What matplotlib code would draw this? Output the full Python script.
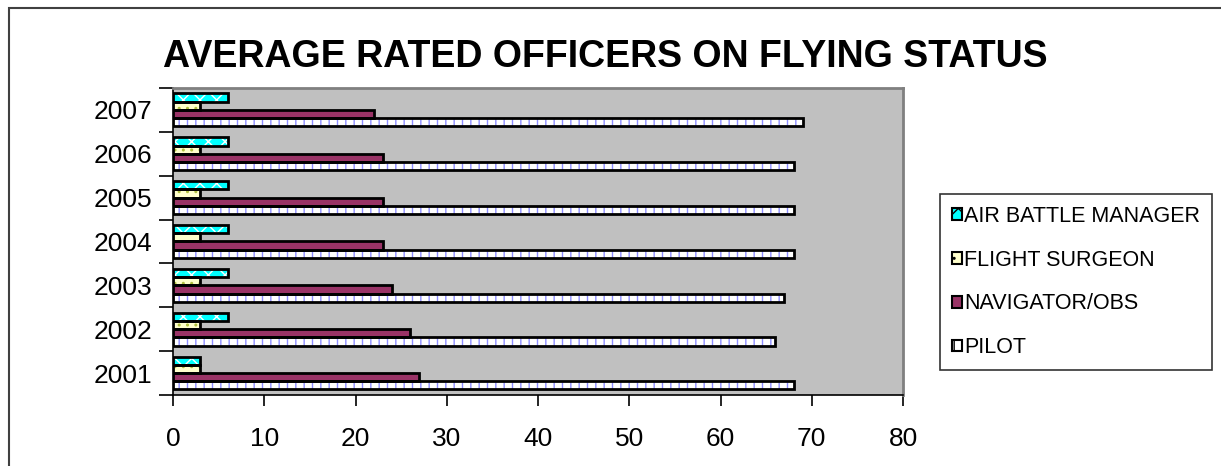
import numpy as np
import matplotlib.pyplot as plt
from matplotlib.patches import Rectangle, Patch

plt.rcParams['font.family'] = ['Liberation Sans', 'DejaVu Sans']

years = ['2001', '2002', '2003', '2004', '2005', '2006', '2007']
pilot = [68, 66, 67, 68, 68, 68, 69]
navigator = [27, 26, 24, 23, 23, 23, 22]
flight_surgeon = [3, 3, 3, 3, 3, 3, 3]
air_battle_mgr = [3, 6, 6, 6, 6, 6, 6]

series = [
    ('PILOT', pilot, 'white', '#8c8cff', '||'),
    ('NAVIGATOR/OBS', navigator, '#993366', '#993366', None),
    ('FLIGHT SURGEON', flight_surgeon, '#ffffcc', '#b0c040', '..'),
    ('AIR BATTLE MANAGER', air_battle_mgr, '#00ffff', 'white', 'xx'),
]

fig = plt.figure(figsize=(12.21, 4.66), dpi=100)
ax = fig.add_axes([0.1417, 0.1524, 0.5979, 0.6588])
ax.set_facecolor('#c0c0c0')

# outer chart border (cut off at right and bottom)
fig.patches.append(Rectangle((9 / 1221, -0.1), 1.2, 1 - 8 / 466 + 0.1,
                             transform=fig.transFigure, fill=False,
                             edgecolor='#404040', linewidth=1.5))

y = np.arange(len(years))
h = 0.1875
handles = []
for i, (name, vals, fc, hc, hatch) in enumerate(series):
    pos = y - 1.5 * h + i * h
    ax.barh(pos, vals, height=h, color=fc, edgecolor=hc, hatch=hatch,
            linewidth=0, zorder=2)
    ax.barh(pos, vals, height=h, facecolor='none', edgecolor='black',
            linewidth=2, zorder=3)
    handles.append(Patch(facecolor=fc, edgecolor='black', linewidth=1.5,
                         hatch=hatch, label=name))

ax.set_xlim(0, 80)
ax.set_ylim(-0.5, len(years) - 0.5)
ax.set_xticks(range(0, 81, 10))
ax.set_yticks(y)
ax.set_yticklabels(years)
ax.set_yticks(np.arange(-0.5, len(years)), minor=True)
ax.tick_params(axis='y', which='major', length=0, labelsize=19, pad=15)
ax.tick_params(axis='y', which='minor', length=10, width=1.2)
ax.tick_params(axis='x', length=8, width=1.2, labelsize=19, pad=15)

for s in ['left', 'bottom']:
    ax.spines[s].set_color('black')
    ax.spines[s].set_linewidth(1.2)
for s in ['top', 'right']:
    ax.spines[s].set_color('#808080')
    ax.spines[s].set_linewidth(2)

fig.text(0.4955, 0.878, 'AVERAGE RATED OFFICERS ON FLYING STATUS',
         ha='center', va='center', fontsize=27, fontweight='bold')

leg = fig.legend(handles=handles[::-1], loc='center left',
                 bbox_to_anchor=(940 / 1221, 1 - 282 / 466),
                 fontsize=15.5, frameon=True, fancybox=False,
                 edgecolor='black', handlelength=0.47, handleheight=0.47,
                 handletextpad=0.1, labelspacing=1.06, borderpad=0.55,
                 borderaxespad=0)
leg.get_frame().set_linewidth(1.2)

fig.savefig('out.png', dpi=100)
